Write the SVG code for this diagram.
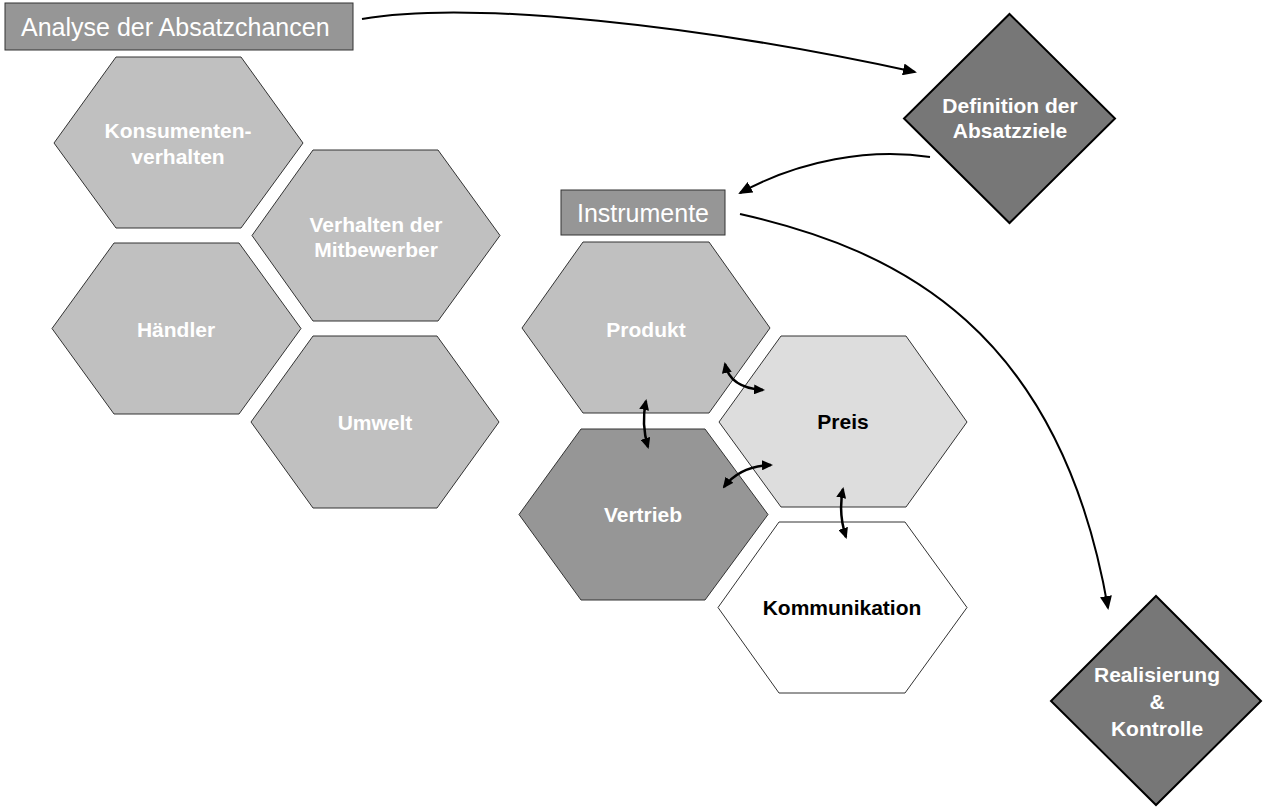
<svg xmlns="http://www.w3.org/2000/svg" width="1263" height="809" viewBox="0 0 1263 809">
<style>
.hex{stroke:#333;stroke-width:1}
.lt{fill:#c0c0c0}
.box{fill:#969696;stroke:#333;stroke-width:1}
.dia{fill:#777;stroke:#000;stroke-width:2}
.bt{font-family:"Liberation Sans",Arial,sans-serif;font-weight:bold;font-size:21px;text-anchor:middle}
.w{fill:#fff}
.k{fill:#000}
.lbl{font-family:"Liberation Sans",Arial,sans-serif;font-size:25px;fill:#fff}
.con{fill:none;stroke:#000;stroke-width:2}
.sm{fill:none;stroke:#000;stroke-width:2.5}
</style>
<defs>
<marker id="ah" markerUnits="userSpaceOnUse" markerWidth="14" markerHeight="12" viewBox="0 0 14 12" refX="12" refY="6" orient="auto">
<path d="M0,0 L14,6 L0,12 Z" fill="#000"/>
</marker>
<marker id="sh" markerUnits="userSpaceOnUse" markerWidth="11" markerHeight="10" viewBox="0 0 11 10" refX="9" refY="5" orient="auto-start-reverse">
<path d="M0,0 L11,5 L0,10 Z" fill="#000"/>
</marker>
</defs>

<g id="analyse">
<rect class="box" x="5" y="3" width="348" height="47"/>
<text class="lbl" x="21" y="36">Analyse der Absatzchancen</text>
</g>

<g id="konsumenten">
<polygon class="hex lt" points="116,57 241,57 303,143 241,228 116,228 54,143"/>
<text class="bt w"><tspan x="178" y="138">Konsumenten-</tspan><tspan x="178" y="164">verhalten</tspan></text>
</g>

<g id="mitbewerber">
<polygon class="hex lt" points="313,150 438,150 500,235.5 438,321 313,321 252,235.5"/>
<text class="bt w"><tspan x="376" y="232">Verhalten der</tspan><tspan x="376" y="257">Mitbewerber</tspan></text>
</g>

<g id="haendler">
<polygon class="hex lt" points="114,243 239,243 301,328.5 239,414 114,414 52,328.5"/>
<text class="bt w" x="176" y="337">Händler</text>
</g>

<g id="umwelt">
<polygon class="hex lt" points="313,336 437,336 499,422 437,508 313,508 251,422"/>
<text class="bt w" x="375" y="430">Umwelt</text>
</g>

<g id="definition">
<polygon class="dia" points="1009.5,14 1115,118.5 1009.5,223 904,118.5"/>
<text class="bt w"><tspan x="1010" y="113">Definition der</tspan><tspan x="1010" y="138">Absatzziele</tspan></text>
</g>

<g id="instrumente">
<rect class="box" x="561" y="190" width="164" height="45"/>
<text class="lbl" x="643" y="222" text-anchor="middle">Instrumente</text>
</g>

<g id="produkt">
<polygon class="hex lt" points="583,242 709,242 770,328 709,413 583,413 522,328"/>
<text class="bt w" x="646" y="337">Produkt</text>
</g>

<g id="preis">
<polygon class="hex" fill="#dddddd" points="781,336 906,336 967,422 906,507 781,507 719,422"/>
<text class="bt k" x="843" y="429">Preis</text>
</g>

<g id="vertrieb">
<polygon class="hex" fill="#969696" points="581,429 705,429 768,514.5 705,600 581,600 519,514.5"/>
<text class="bt w" x="643" y="522">Vertrieb</text>
</g>

<g id="kommunikation">
<polygon class="hex" fill="#fff" points="779,522 905,522 967,607.5 905,693 779,693 718,607.5"/>
<text class="bt k" x="842" y="615">Kommunikation</text>
</g>

<g id="realisierung">
<polygon class="dia" points="1156,596 1261,701 1156,805 1051,701"/>
<text class="bt w"><tspan x="1157" y="682">Realisierung</tspan><tspan x="1157" y="709">&amp;</tspan><tspan x="1157" y="736">Kontrolle</tspan></text>
</g>

<g id="connectors">
<path class="con" marker-end="url(#ah)" d="M362,19 C470,0 700,25 915,72"/>
<path class="con" marker-end="url(#ah)" d="M930,157 C870,148 800,160 740,193"/>
<path class="con" marker-end="url(#ah)" d="M740,214 C900,250 1060,330 1108,608"/>
<path class="sm" marker-start="url(#sh)" marker-end="url(#sh)" d="M646,401 Q641,424 648,447"/>
<path class="sm" marker-start="url(#sh)" marker-end="url(#sh)" d="M725,364 Q730,388 763,390"/>
<path class="sm" marker-start="url(#sh)" marker-end="url(#sh)" d="M724,487 Q740,466 771,465"/>
<path class="sm" marker-start="url(#sh)" marker-end="url(#sh)" d="M843,489 Q838,513 846,537"/>
</g>
</svg>
